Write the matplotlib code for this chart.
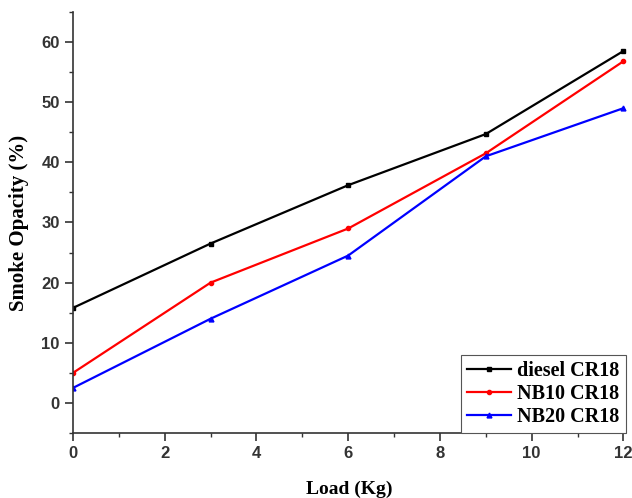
import matplotlib.pyplot as plt
from matplotlib.ticker import MultipleLocator

load = [0, 3, 6, 9, 12]
diesel = [15.8, 26.5, 36.2, 44.7, 58.5]
nb10 = [5.0, 20.0, 29.0, 41.5, 56.8]
nb20 = [2.5, 14.0, 24.5, 41.0, 49.0]

fig = plt.figure(figsize=(6.32, 4.98), dpi=100)
ax = fig.add_axes([0.1155, 0.1305, 0.8745, 0.8455])

ax.plot(load, diesel, color='black', marker='s', markersize=3, lw=1.6, label='diesel CR18')
ax.plot(load, nb10, color='red', marker='o', markersize=3, lw=1.6, label='NB10 CR18')
ax.plot(load, nb20, color='blue', marker='^', markersize=3.5, lw=1.6, label='NB20 CR18')

ax.set_xlim(0, 12.05)
ax.set_ylim(-5, 65)
ax.xaxis.set_major_locator(MultipleLocator(2))
ax.xaxis.set_minor_locator(MultipleLocator(1))
ax.yaxis.set_major_locator(MultipleLocator(10))
ax.yaxis.set_minor_locator(MultipleLocator(5))

for s in ['top', 'right']:
    ax.spines[s].set_visible(False)
for s in ['left', 'bottom']:
    ax.spines[s].set_linewidth(1.2)
    ax.spines[s].set_color('#333333')

ax.tick_params(which='major', length=6, width=1.2, direction='out', color='#333333')
ax.tick_params(which='minor', length=3, width=1.0, direction='out', color='#333333')
ax.set_yticks([0, 10, 20, 30, 40, 50, 60])
ax.set_yticklabels(['0', '10', '20', '30', '40', '50', '60'],
                   fontfamily='Liberation Sans', fontweight='bold', fontsize=12, color='#333333')
ax.set_xticks([0, 2, 4, 6, 8, 10, 12])
ax.set_xticklabels(['0', '2', '4', '6', '8', '10', '12'],
                   fontfamily='Liberation Sans', fontweight='bold', fontsize=12, color='#333333')

ax.set_xlabel('Load (Kg)', fontfamily='Liberation Serif', fontweight='bold', fontsize=14, labelpad=14)
ax.set_ylabel('Smoke Opacity (%)', fontfamily='Liberation Serif', fontweight='bold', fontsize=15, labelpad=9)

leg = ax.legend(loc='lower right', prop={'family': 'Liberation Serif', 'weight': 'bold', 'size': 14.5},
                fancybox=False, framealpha=1, edgecolor='#555555', handlelength=2.2,
                borderpad=0.3, labelspacing=0.15, handletextpad=0.3, borderaxespad=0.0)
leg.get_frame().set_linewidth(0.8)

fig.savefig('out.png', dpi=100)
